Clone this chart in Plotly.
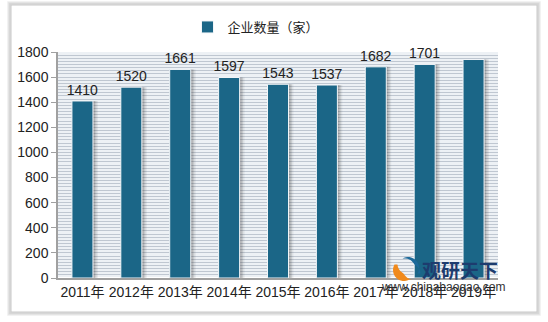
import math
import plotly.graph_objects as go

years = ["2011年", "2012年", "2013年", "2014年", "2015年", "2016年", "2017年", "2018年", "2019年"]
values = [1410, 1520, 1661, 1597, 1543, 1537, 1682, 1701, 1740]
labels = ["1410", "1520", "1661", "1597", "1543", "1537", "1682", "1701", ""]
series_name = "企业数量（家）"

W, H = 548, 322
L, R, T, B = 58, 50, 52, 44
pw, ph = W - L - R, H - T - B

def px(x):
    return (x - L) / pw

def py(y):
    return (H - B - y) / ph

FONT = "Liberation Sans, Arial, Noto Sans CJK SC, sans-serif"
BW = 0.43

fig = go.Figure()
# soft shadow behind bars
for k, (dx, op) in enumerate([(0.1, 0.08), (0.07, 0.12), (0.04, 0.16)]):
    fig.add_trace(go.Bar(
        x=years, y=values, width=BW, offset=-BW / 2 + dx,
        marker=dict(color=f"rgba(40,40,40,{op})", line=dict(width=0)),
        showlegend=False, hoverinfo="skip",
    ))
fig.add_trace(go.Bar(
    x=years, y=values, name=series_name, width=BW, offset=-BW / 2,
    marker=dict(color="#1b6687", line=dict(color="#f2f5f8", width=1)),
    text=labels, textposition="outside", cliponaxis=False, constraintext="none",
    textfont=dict(size=14, color="#222222", family=FONT),
    showlegend=True,
))

shapes = []
# outer frame with soft shadow
for i, c in enumerate(["#eeeeee", "#e0e0e0", "#d2d2d2"]):
    d = 3 - i
    shapes.append(dict(type="rect", xref="paper", yref="paper",
                       x0=px(11 - d), x1=px(537 + d), y0=py(312 + d), y1=py(5 - d),
                       line=dict(color=c, width=1.5), layer="below"))
shapes.append(dict(type="rect", xref="paper", yref="paper",
                   x0=px(11), x1=px(537), y0=py(312), y1=py(5),
                   line=dict(color="#c8c8c8", width=1), layer="below"))

# small watermark logo (two crescents)
def crescent(cx, cy, r, a0, a1, thick):
    pts = []
    n = 16
    for k in range(n + 1):
        a = math.radians(a0 + (a1 - a0) * k / n)
        pts.append((cx + r * math.cos(a), cy - r * math.sin(a)))
    for k in range(n, -1, -1):
        a = math.radians(a0 + (a1 - a0) * k / n)
        rr = r - thick * math.sin(math.pi * k / n)
        pts.append((cx + 3 + rr * math.cos(a), cy - rr * math.sin(a)))
    return "M " + " L ".join(f"{px(x):.4f},{py(y):.4f}" for x, y in pts) + " Z"

shapes.append(dict(type="path", xref="paper", yref="paper",
                   path=crescent(404, 270, 11, 150, 300, 6),
                   fillcolor="#f08a1c", line=dict(width=0)))
shapes.append(dict(type="path", xref="paper", yref="paper",
                   path=crescent(408, 268, 11, -30, 120, 6),
                   fillcolor="#1d6a9a", line=dict(width=0)))

fig.update_layout(
    width=W, height=H,
    margin=dict(l=L, r=R, t=T, b=B),
    paper_bgcolor="white",
    plot_bgcolor="#edf1f5",
    barmode="overlay",
    font=dict(family=FONT, size=14, color="#222222"),
    legend=dict(orientation="h", x=px(256), xanchor="center", y=py(27), yanchor="middle",
                font=dict(size=13, color="#222222", family=FONT),
                bgcolor="white", itemwidth=30),
    shapes=shapes,
    xaxis=dict(showline=True, linecolor="#a0a0a0", linewidth=1.5, ticks="",
               tickfont=dict(size=14, color="#222222"), showgrid=False),
    yaxis=dict(range=[0, 1800], dtick=200, showline=True, linecolor="#a0a0a0", linewidth=1.5,
               ticks="outside", tickcolor="#a0a0a0", ticklen=5,
               tickfont=dict(size=14, color="#222222"),
               showgrid=True, gridcolor="#bfc7d1", gridwidth=1,
               minor=dict(tickmode="linear", dtick=25, showgrid=True, gridcolor="#bfc7d1", gridwidth=1)),
    annotations=[
        dict(text="<b>观研天下</b>", xref="paper", yref="paper", x=px(460), y=py(269),
             xanchor="center", yanchor="middle",
             showarrow=False, font=dict(size=19, color="#1d3c6e", family="Noto Sans CJK SC")),
        dict(text="www.chinabaogao.com", xref="paper", yref="paper", x=px(443), y=py(287),
             xanchor="center", yanchor="middle",
             showarrow=False, font=dict(size=12, color="#333333", family=FONT)),
    ],
)

fig.write_html("out.html")
